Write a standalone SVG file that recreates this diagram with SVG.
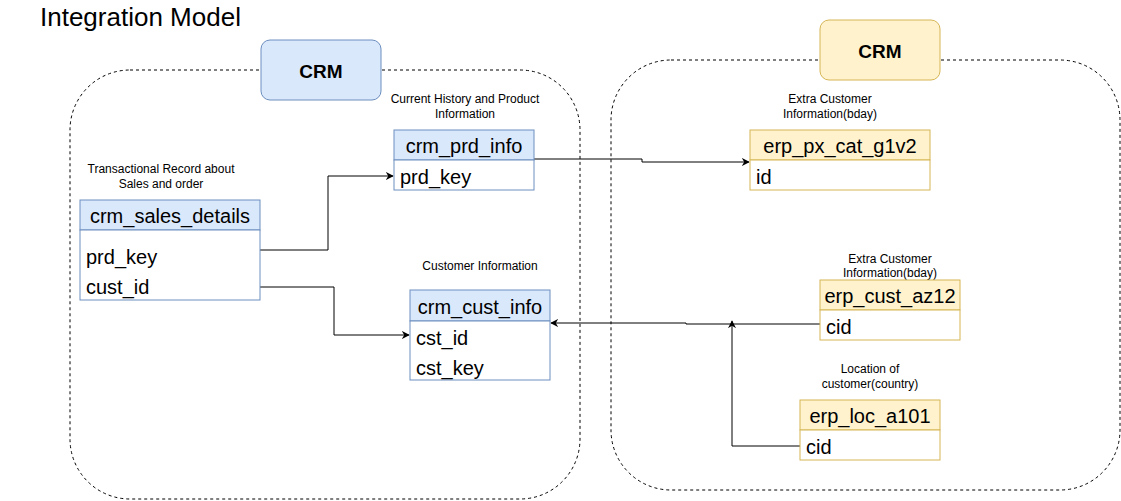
<svg xmlns="http://www.w3.org/2000/svg" width="1121" height="501" viewBox="0 0 1121 501">
<style>
text{font-family:"Liberation Sans",Arial,sans-serif;fill:#000}
.cont{fill:none;stroke:#000;stroke-width:1;stroke-dasharray:3 3}
.bh{fill:#dae8fc;stroke:#6c8ebf}
.bb{fill:#fff;stroke:#6c8ebf}
.yh{fill:#fff2cc;stroke:#d6b656}
.yb{fill:#fff;stroke:#d6b656}
.t{font-size:20px}
.th{font-size:20px;text-anchor:middle}
.lbl{font-size:12px;text-anchor:middle}
.crm{font-size:19px;font-weight:bold;text-anchor:middle}
.edge{fill:none;stroke:#000;stroke-width:1}
</style>
<defs>
<marker id="arr" viewBox="0 0 10 10" refX="9" refY="5" markerWidth="8" markerHeight="8" markerUnits="userSpaceOnUse" orient="auto">
<path d="M0,0 L10,5 L0,10 L3,5 z" fill="#000"/>
</marker>
</defs>
<rect width="1121" height="501" fill="#fff"/>
<text x="40" y="26" font-size="26">Integration Model</text>

<g id="container-left">
<rect class="cont" x="70" y="70" width="510" height="429" rx="60" ry="60"/>
</g>
<g id="container-right">
<rect class="cont" x="611" y="60" width="509" height="430" rx="60" ry="60"/>
</g>

<g id="crm-left">
<rect x="261" y="40" width="120" height="60" rx="9" fill="#dae8fc" stroke="#6c8ebf"/>
<text class="crm" x="321" y="78">CRM</text>
</g>
<g id="crm-right">
<rect x="820" y="20" width="120" height="60" rx="9" fill="#fff2cc" stroke="#d6b656"/>
<text class="crm" x="880" y="58">CRM</text>
</g>

<g id="connectors">
<path class="edge" d="M260,250 H328 V176 H393" marker-end="url(#arr)"/>
<path class="edge" d="M260,287 H334 V335 H409" marker-end="url(#arr)"/>
<path class="edge" d="M534,159 H642 V162 H749" marker-end="url(#arr)"/>
<path class="edge" d="M820,324 H686 V323 H551" marker-end="url(#arr)"/>
<path class="edge" d="M800,446 H732 V321" marker-end="url(#arr)"/>
</g>

<g id="label-sales">
<text class="lbl" x="161" y="173">Transactional Record about</text>
<text class="lbl" x="161" y="188">Sales and order</text>
</g>
<g id="crm_sales_details">
<rect class="bh" x="80" y="200" width="180" height="30"/>
<rect class="bb" x="80" y="230" width="180" height="70"/>
<text class="th" x="170" y="223">crm_sales_details</text>
<text class="t" x="86" y="264">prd_key</text>
<text class="t" x="86" y="294">cust_id</text>
</g>

<g id="label-prd">
<text class="lbl" x="465" y="103">Current History and Product</text>
<text class="lbl" x="465" y="118">Information</text>
</g>
<g id="crm_prd_info">
<rect class="bh" x="394" y="130" width="140" height="30"/>
<rect class="bb" x="394" y="160" width="140" height="30"/>
<text class="th" x="464" y="153">crm_prd_info</text>
<text class="t" x="400" y="184">prd_key</text>
</g>

<g id="label-cust">
<text class="lbl" x="480" y="270">Customer Information</text>
</g>
<g id="crm_cust_info">
<rect class="bh" x="410" y="290" width="140" height="31"/>
<rect class="bb" x="410" y="321" width="140" height="59"/>
<text class="th" x="480" y="314">crm_cust_info</text>
<text class="t" x="416" y="345">cst_id</text>
<text class="t" x="416" y="375">cst_key</text>
</g>

<g id="label-px">
<text class="lbl" x="830" y="103">Extra Customer</text>
<text class="lbl" x="830" y="118">Information(bday)</text>
</g>
<g id="erp_px_cat_g1v2">
<rect class="yh" x="750" y="130" width="180" height="30"/>
<rect class="yb" x="750" y="160" width="180" height="30"/>
<text class="th" x="840" y="153">erp_px_cat_g1v2</text>
<text class="t" x="756" y="184">id</text>
</g>

<g id="label-az12">
<text class="lbl" x="890" y="263">Extra Customer</text>
<text class="lbl" x="890" y="277">Information(bday)</text>
</g>
<g id="erp_cust_az12">
<rect class="yh" x="820" y="280" width="140" height="30"/>
<rect class="yb" x="820" y="310" width="140" height="30"/>
<text class="th" x="890" y="303">erp_cust_az12</text>
<text class="t" x="826" y="334">cid</text>
</g>

<g id="label-loc">
<text class="lbl" x="870" y="373">Location of</text>
<text class="lbl" x="870" y="388">customer(country)</text>
</g>
<g id="erp_loc_a101">
<rect class="yh" x="800" y="400" width="140" height="30"/>
<rect class="yb" x="800" y="430" width="140" height="30"/>
<text class="th" x="870" y="423">erp_loc_a101</text>
<text class="t" x="806" y="454">cid</text>
</g>
</svg>
